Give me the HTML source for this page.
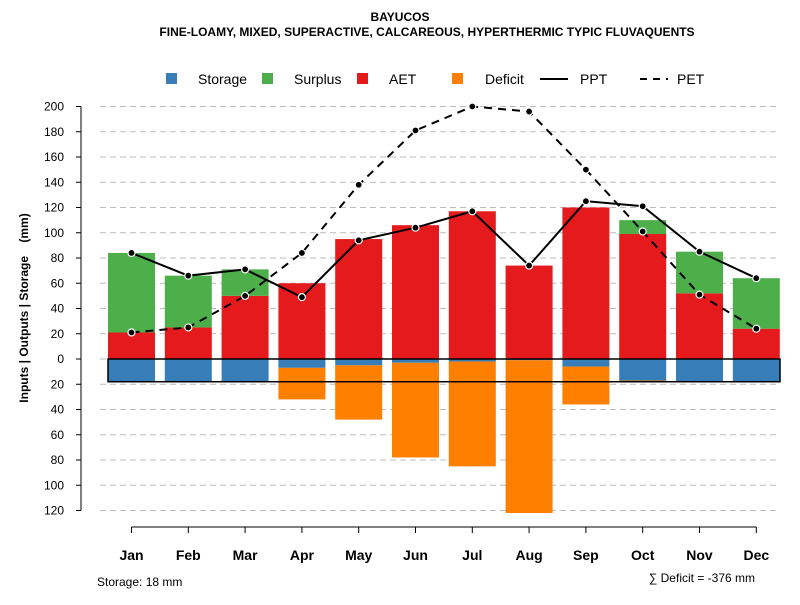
<!DOCTYPE html>
<html><head><meta charset="utf-8"><style>
body{margin:0;background:#fff;font-family:"Liberation Sans",sans-serif}
svg text{font-family:"Liberation Sans",sans-serif}
</style></head><body>
<svg id="c" width="800" height="600" xmlns="http://www.w3.org/2000/svg">
<text x="400" y="21" text-anchor="middle" font-size="12" font-weight="bold">BAYUCOS</text>
<text x="427" y="36" text-anchor="middle" font-size="12" font-weight="bold">FINE-LOAMY, MIXED, SUPERACTIVE, CALCAREOUS, HYPERTHERMIC TYPIC FLUVAQUENTS</text>
<g id="grid"></g><g id="bars"></g><g id="lines"></g><g id="axes"></g>
<g font-size="14">
<rect x="166" y="73" width="11" height="11" fill="#377EB8"/><text x="198" y="84">Storage</text>
<rect x="262" y="73" width="11" height="11" fill="#4DAF4A"/><text x="294" y="84">Surplus</text>
<rect x="357" y="73" width="11" height="11" fill="#E41A1C"/><text x="389" y="84">AET</text>
<rect x="452" y="73" width="11" height="11" fill="#FF7F00"/><text x="485" y="84">Deficit</text>
<line x1="540" y1="79" x2="568" y2="79" stroke="#000" stroke-width="2"/><text x="580" y="84">PPT</text>
<line x1="640" y1="79" x2="668" y2="79" stroke="#000" stroke-width="2" stroke-dasharray="7,6"/><text x="677" y="84">PET</text>
</g>
<text transform="translate(28,308) rotate(-90)" text-anchor="middle" font-size="12" font-weight="bold">Inputs | Outputs | Storage&#160;&#160;&#160;&#160;(mm)</text>
<text x="97" y="586" font-size="12">Storage: 18 mm</text>
<text x="755" y="582" text-anchor="end" font-size="12">∑ Deficit = -376 mm</text>
</svg>
<script>
const months=["Jan","Feb","Mar","Apr","May","Jun","Jul","Aug","Sep","Oct","Nov","Dec"];
const aet=[21,25,50,60,95,106,117,74,120,99,52,24];
const surplus=[63,41,21,0,0,0,0,0,0,11,33,40];
const storage=[18,18,18,7,5,3,2,1,6,17,18,18];
const deficit=[0,0,0,25,43,75,83,121,30,1,0,0];
const ppt=[84,66,71,49,94,104,117,74,125,121,85,64];
const pet=[21,25,50,84,138,181,200,196,150,101,51,24];
const yTicks=[200,180,160,140,120,100,80,60,40,20,0,20,40,60,80,100,120];
const NS="http://www.w3.org/2000/svg";
const y=v=>359-v*1.2625;
const x=i=>131.5+i*56.8;
const bw=47;
function mk(p,t,a){const e=document.createElementNS(NS,t);for(const k in a)e.setAttribute(k,a[k]);document.getElementById(p).appendChild(e);return e;}
yTicks.forEach((t,i)=>{const v=i<=10?t:-t;
const g=mk("grid","line",{x1:100,x2:780,y1:y(v),y2:y(v),stroke:"#bbb","stroke-dasharray":"6,4"});


const tk=mk("axes","line",{x1:76,x2:81,y1:y(v),y2:y(v),stroke:"#000"});


const tl=mk("axes","text",{x:64,y:y(v)+4,"text-anchor":"end","font-size":12});tl.textContent=t;

});
const ya=mk("axes","line",{x1:81,x2:81,y1:y(200),y2:y(-120),stroke:"#000"});


const xa=mk("axes","line",{x1:x(0),x2:x(11),y1:527,y2:527,stroke:"#000"});


months.forEach((m,i)=>{const cx=x(i),l=cx-bw/2;
let r=mk("bars","rect",{x:l,y:y(aet[i]),width:bw,height:aet[i]*1.2625,fill:"#E41A1C"});


r=mk("bars","rect",{x:l,y:y(aet[i]+surplus[i]),width:bw,height:surplus[i]*1.2625,fill:"#4DAF4A"});


r=mk("bars","rect",{x:l,y:y(0),width:bw,height:storage[i]*1.2625,fill:"#377EB8"});


r=mk("bars","rect",{x:l,y:y(-storage[i]),width:bw,height:deficit[i]*1.2625,fill:"#FF7F00"});


const tk=mk("axes","line",{x1:cx,x2:cx,y1:527,y2:533,stroke:"#000"});


const t=mk("axes","text",{x:cx,y:560,"text-anchor":"middle","font-size":14,"font-weight":"bold"});t.textContent=m;

});
const sb=mk("bars","rect",{x:108,y:y(0),width:672,height:18*1.2625,fill:"none",stroke:"#000","stroke-width":1.5});


function line(arr,dash,name){const p=mk("lines","polyline",{points:arr.map((v,i)=>x(i)+","+y(v)).join(" "),fill:"none",stroke:"#000","stroke-width":2,"stroke-dasharray":dash});


arr.forEach((v,i)=>{const c=mk("lines","circle",{cx:x(i),cy:y(v),r:3.5,fill:"#000",stroke:"#fff","stroke-width":1.2});

});}
line(ppt,"none","ppt");
line(pet,"8,6","pet");
</script>
</body></html>
